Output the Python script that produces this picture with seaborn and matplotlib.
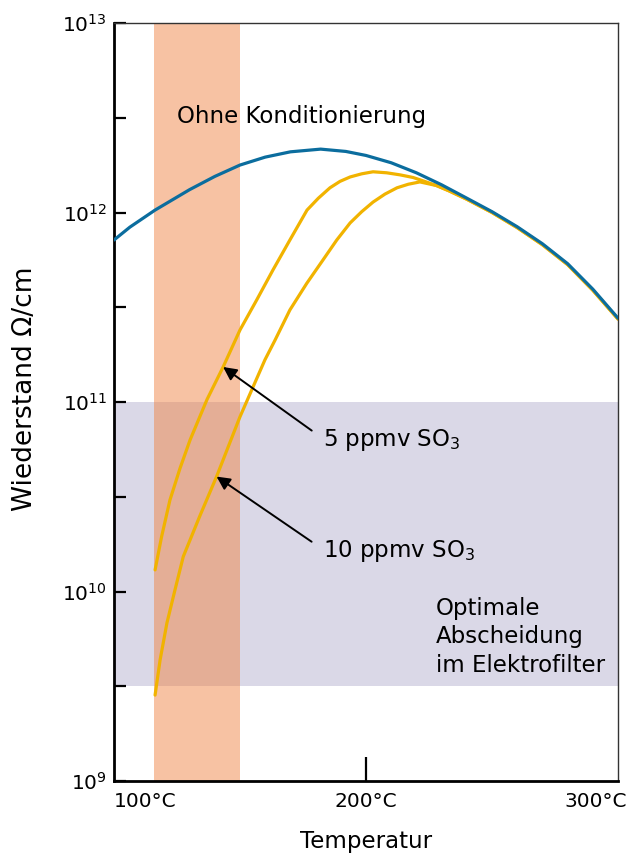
import numpy as np
import pandas as pd
import matplotlib
matplotlib.use("Agg")
import matplotlib.pyplot as plt
import matplotlib.transforms as mtransforms
from matplotlib.ticker import FixedLocator, NullFormatter
import seaborn as sns

# Werte, Widerstand in Ohm*cm
temp_ohne = [100, 106.3, 116.3, 130, 140, 150, 160, 170, 182, 192, 200, 210, 220, 230, 240,
             250, 260, 270, 280, 290, 300]
res_ohne = [7.16e11, 8.37e11, 1.03e12, 1.32e12, 1.55e12, 1.78e12, 1.96e12, 2.09e12, 2.16e12,
            2.10e12, 2.00e12, 1.83e12, 1.62e12, 1.40e12, 1.19e12, 1.01e12, 8.41e11, 6.84e11,
            5.37e11, 3.94e11, 2.77e11]

temp_5ppmv = [116.3, 118.9, 122.2, 126.2, 130.2, 136.9, 143.3, 150, 156.6, 163.1, 169.8, 176.6,
              181.1, 185.7, 189.7, 193.7, 198.3, 202.8, 208.2, 213.5, 218.7, 222.6,
              228, 233, 240, 250, 260, 270, 280, 290, 300]
res_5ppmv = [1.30e10, 1.95e10, 3.04e10, 4.47e10, 6.31e10, 1.03e11, 1.53e11, 2.40e11, 3.45e11,
             4.98e11, 7.16e11, 1.03e12, 1.19e12, 1.35e12, 1.46e12, 1.54e12, 1.60e12, 1.64e12,
             1.62e12, 1.58e12, 1.53e12, 1.47e12,
             1.387e12, 1.30e12, 1.175e12, 1.0e12, 8.32e11, 6.76e11, 5.31e11, 3.89e11, 2.74e11]

temp_10ppmv = [116.3, 118.3, 121, 124.2, 127.5, 134.1, 140.7, 150, 159.9, 163.9, 169.8, 176.5,
               182.9, 188.4, 193.7, 198.3, 202.8, 207.5, 212.3, 216.8, 221.4,
               228, 233, 240, 250, 260, 270, 280, 290, 300]
res_10ppmv = [2.84e9, 4.36e9, 6.82e9, 1.02e10, 1.53e10, 2.51e10, 4.04e10, 8.36e10, 1.67e11,
              2.12e11, 3.06e11, 4.23e11, 5.61e11, 7.16e11, 8.81e11, 1.01e12, 1.135e12, 1.25e12,
              1.35e12, 1.41e12, 1.45e12,
              1.387e12, 1.30e12, 1.175e12, 1.0e12, 8.32e11, 6.76e11, 5.31e11, 3.89e11, 2.74e11]

# Bereiche
band_temp = (116, 150)        # Temperaturfenster (orange)
band_res = (3.16e9, 1e11)     # optimaler Widerstand fuer den Elektrofilter

x_ticks = [100, 200, 300]
x_ticklabels = ["100°C", "200°C", "300°C"]
y_minor = [3.16e9, 3.16e10, 3.16e11, 3.16e12]

BLUE = "#0b6d9e"
YELLOW = "#f1b300"

sns.set_style("ticks")
plt.rcParams["font.family"] = ["DejaVu Sans"]
plt.rcParams["text.color"] = "black"
plt.rcParams["axes.labelcolor"] = "black"
plt.rcParams["xtick.color"] = "black"
plt.rcParams["ytick.color"] = "black"

fig = plt.figure(figsize=(6.36, 8.56), dpi=100)
ax = fig.add_axes([114 / 636, 75 / 856, 504 / 636, 758 / 856])

ax.axhspan(band_res[0], band_res[1], color="#dad8e7", lw=0, zorder=0)
ax.axvspan(band_temp[0], band_temp[1], color="#ef8343", alpha=0.49, lw=0, zorder=1)

df5 = pd.DataFrame({"T": temp_5ppmv, "R": res_5ppmv})
df10 = pd.DataFrame({"T": temp_10ppmv, "R": res_10ppmv})
df0 = pd.DataFrame({"T": temp_ohne, "R": res_ohne})
sns.lineplot(data=df10, x="T", y="R", ax=ax, color=YELLOW, lw=2.3, zorder=2)
sns.lineplot(data=df5, x="T", y="R", ax=ax, color=YELLOW, lw=2.3, zorder=2)
sns.lineplot(data=df0, x="T", y="R", ax=ax, color=BLUE, lw=2.3, zorder=3)

ax.set_yscale("log")
ax.set_xlim(100, 300)
ax.set_ylim(1e9, 1e13)

# Achsen
for side in ["left", "bottom"]:
    ax.spines[side].set_linewidth(2.0)
    ax.spines[side].set_color("black")
for side in ["top", "right"]:
    ax.spines[side].set_visible(True)
    ax.spines[side].set_linewidth(1.0)
    ax.spines[side].set_color("#333333")

ax.yaxis.set_minor_locator(FixedLocator(y_minor))
ax.yaxis.set_minor_formatter(NullFormatter())
ax.tick_params(axis="y", which="both", direction="in", length=8.8, width=1.6,
               labelsize=14.5, pad=5, right=False, colors="black")
ax.set_xticks(x_ticks)
ax.set_xticklabels(x_ticklabels)
ax.tick_params(axis="x", which="both", direction="in", length=17, width=1.6,
               labelsize=14.5, pad=8, top=False, colors="black")
ax.xaxis.set_minor_locator(FixedLocator([]))
ticks = ax.xaxis.get_major_ticks()
ticks[0].tick1line.set_visible(False)
ticks[-1].tick1line.set_visible(False)
labels = ax.get_xticklabels()
labels[0].set_horizontalalignment("left")
labels[-1].set_horizontalalignment("right")
labels[-1].set_transform(labels[-1].get_transform() +
                         mtransforms.ScaledTranslation(9 / 100, 0, fig.dpi_scale_trans))

ax.set_xlabel("Temperatur", fontsize=16.5, labelpad=13.5)
ax.set_ylabel("Wiederstand Ω/cm", fontsize=19)
ax.yaxis.set_label_coords(-0.151, 0.517)

# Beschriftungen
ax.text(125, 10 ** 12.504, "Ohne Konditionierung", fontsize=16.5, ha="left", va="center", zorder=4)
ax.text(227.8, 10 ** 9.76, "Optimale\nAbscheidung\nim Elektrofilter", fontsize=16.5,
        ha="left", va="center", linespacing=1.33, zorder=4)

arrow = dict(arrowstyle="-|>", color="black", lw=1.4, mutation_scale=20,
             shrinkA=7, shrinkB=0, relpos=(0, 0.55))
i5 = temp_5ppmv.index(143.3)
i10 = temp_10ppmv.index(140.7)
ax.annotate("5 ppmv SO$_3$", xy=(temp_5ppmv[i5], res_5ppmv[i5]), xytext=(182.9, 10 ** 10.80),
            fontsize=16.5, ha="left", va="center", arrowprops=arrow, zorder=4)
ax.annotate("10 ppmv SO$_3$", xy=(temp_10ppmv[i10], res_10ppmv[i10]), xytext=(182.9, 10 ** 10.215),
            fontsize=16.5, ha="left", va="center", arrowprops=arrow, zorder=4)

fig.savefig("out.png", dpi=100)
